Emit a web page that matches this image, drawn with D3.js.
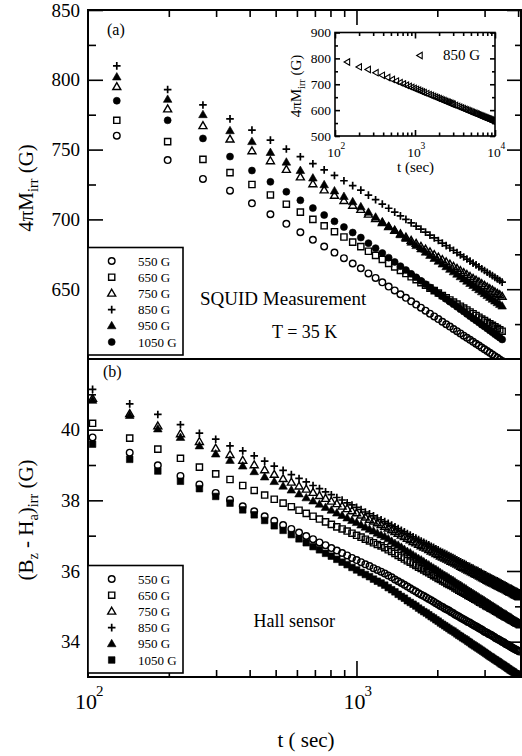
<!DOCTYPE html>
<html>
<head>
<meta charset="utf-8">
<script src="https://cdn.jsdelivr.net/npm/d3@7/dist/d3.min.js"></script>
<style>
  body { margin: 0; background: #fff; }
</style>
</head>
<body>
<script>
'use strict';

// ---- data ----
const fieldLabels = ["550 G", "650 G", "750 G", "850 G", "950 G", "1050 G"];

// panel (a): SQUID, t in sec, 4piM_irr in G
const tTop = [128,198,268,338,408,478,548,618,688,758,828,898,968,1038,1108,1178,1248,1318,1388,1458,1528,1598,1668,1738,1808,1878,1948,2018,2088,2158,2228,2298,2368,2438,2508,2578,2648,2718,2788,2858,2928,2998,3068,3138,3208,3278,3348,3418,3488];
const top550 = [760,742.5,729,720.6,711.5,703.7,696.8,690.8,685.4,680.6,676.2,672.2,668.4,665,661.3,658.1,654.9,651.9,649.1,646.4,643.8,641.3,639,636.8,634.6,632.5,630.5,628.6,626.7,624.9,623.2,621.5,619.9,618.3,616.7,615.2,613.7,612.3,610.9,609.6,608.2,606.9,605.7,604.4,603.3,602,600.9,599.7,598.6];
const top650 = [771,755.7,743,733.5,725,717.5,710.9,705.2,700,695.4,691.2,687.4,683.7,680.5,677.2,674.2,671.3,668.5,666,663.5,661.2,658.9,656.8,654.7,652.8,650.8,649,647.3,645.5,643.9,642.3,640.8,639.3,637.8,636.5,635.1,633.7,632.4,631.2,629.9,628.6,627.5,626.3,625.2,624.1,623,622,620.9,619.9];
const top750 = [795,779,767,757.4,749,741.9,735.7,730.3,725.4,721,717.1,713.4,710,707,703.6,700.5,697.6,694.7,692.1,689.5,687.2,684.8,682.7,680.6,678.6,676.6,674.7,672.9,671.1,669.5,667.8,666.3,664.8,663.2,661.8,660.4,659,657.7,656.4,655.1,653.8,652.6,651.4,650.2,649.2,648,646.9,645.9,644.8];
const top850 = [810,793,782,772,764,756.8,750.4,744.9,739.9,735.5,731.5,727.7,724.2,721,717.4,714.1,711,708,705.2,702.5,700,697.5,695.2,693,690.9,688.7,686.7,684.9,683,681.2,679.5,677.9,676.2,674.6,673.1,671.6,670.1,668.7,667.4,666,664.6,663.4,662.1,660.9,659.7,658.5,657.4,656.2,655.1];
const top950 = [802,786,775,763.5,755.7,747.9,741,735,729.6,724.8,720.4,716.4,712.6,709,705.1,701.6,698.2,695,692,689,686.3,683.6,681.2,678.8,676.5,674.2,672,670,668,666.1,664.2,662.4,660.7,658.9,657.3,655.7,654.1,652.6,651.1,649.6,648.1,646.8,645.4,644.1,642.8,641.5,640.3,639.1,637.9];
const top1050 = [785,771,758,745,735,726.9,719.8,713.7,708.1,703.1,698.6,694.5,690.6,687,683,679.4,675.9,672.6,669.5,666.5,663.7,661,658.5,656,653.6,651.3,649.1,647,644.9,643,641,639.2,637.4,635.6,634,632.3,630.6,629.1,627.6,626.1,624.5,623.2,621.8,620.4,619.1,617.7,616.5,615.3,614];

// panel (b): Hall sensor, (Bz - Ha)_irr in G
const tBot = [104,143,182,221,260,299,338,377,416,455,494,533,572,611,650,689,728,767,806,845,884,923,962,1001,1040,1079,1118,1157,1196,1235,1274,1313,1352,1391,1430,1469,1508,1547,1586,1625,1664,1703,1742,1781,1820,1859,1898,1937,1976,2015,2054,2093,2132,2171,2210,2249,2288,2327,2366,2405,2444,2483,2522,2561,2600,2639,2678,2717,2756,2795,2834,2873,2912,2951,2990,3029,3068,3107,3146,3185,3224,3263,3302,3341,3380,3419,3458,3497,3536,3575,3614,3653,3692,3731,3770,3809,3848,3887,3926,3965,4004,4043];
const bot550 = [39.78,39.35,38.99,38.69,38.45,38.21,38.02,37.83,37.69,37.55,37.42,37.30,37.19,37.09,36.99,36.90,36.81,36.73,36.65,36.58,36.51,36.44,36.37,36.31,36.25,36.19,36.14,36.08,36.03,35.98,35.93,35.87,35.82,35.76,35.71,35.66,35.61,35.56,35.51,35.46,35.42,35.37,35.33,35.29,35.25,35.21,35.17,35.13,35.09,35.05,35.01,34.98,34.94,34.91,34.88,34.84,34.81,34.77,34.74,34.71,34.68,34.65,34.62,34.59,34.56,34.54,34.51,34.48,34.45,34.43,34.40,34.37,34.35,34.32,34.29,34.27,34.25,34.22,34.20,34.18,34.15,34.13,34.10,34.08,34.06,34.04,34.02,33.99,33.98,33.95,33.93,33.91,33.89,33.87,33.85,33.83,33.81,33.79,33.77,33.76,33.74,33.72];
const bot650 = [40.18,39.76,39.45,39.19,38.94,38.75,38.59,38.42,38.28,38.15,38.03,37.92,37.82,37.72,37.63,37.55,37.47,37.39,37.32,37.25,37.19,37.13,37.07,37.01,36.96,36.90,36.85,36.80,36.75,36.71,36.66,36.60,36.55,36.50,36.44,36.39,36.34,36.29,36.25,36.20,36.16,36.11,36.07,36.03,35.99,35.95,35.91,35.87,35.83,35.79,35.76,35.72,35.69,35.65,35.62,35.59,35.56,35.52,35.49,35.46,35.43,35.40,35.37,35.34,35.31,35.29,35.26,35.23,35.20,35.18,35.15,35.12,35.10,35.07,35.05,35.02,35.00,34.98,34.95,34.93,34.91,34.88,34.86,34.84,34.82,34.79,34.77,34.75,34.73,34.71,34.69,34.67,34.65,34.63,34.61,34.59,34.57,34.55,34.53,34.52,34.50,34.48];
const bot750 = [40.88,40.45,40.10,39.88,39.66,39.47,39.29,39.13,39.00,38.86,38.73,38.61,38.51,38.40,38.31,38.22,38.13,38.05,37.97,37.90,37.83,37.76,37.70,37.64,37.58,37.52,37.46,37.41,37.36,37.31,37.26,37.21,37.16,37.11,37.06,37.01,36.97,36.92,36.88,36.83,36.79,36.75,36.71,36.67,36.64,36.60,36.56,36.53,36.49,36.46,36.42,36.39,36.36,36.33,36.30,36.27,36.25,36.22,36.19,36.16,36.13,36.10,36.08,36.05,36.02,36.00,35.97,35.95,35.92,35.90,35.88,35.85,35.83,35.80,35.78,35.76,35.73,35.71,35.69,35.67,35.65,35.63,35.61,35.59,35.57,35.55,35.53,35.51,35.50,35.48,35.46,35.44,35.42,35.40,35.39,35.37,35.35,35.33,35.31,35.30,35.28,35.26];
const bot850 = [41.14,40.73,40.43,40.14,39.90,39.73,39.54,39.40,39.26,39.11,38.97,38.85,38.73,38.62,38.52,38.42,38.33,38.24,38.16,38.08,38.01,37.93,37.87,37.80,37.74,37.67,37.62,37.56,37.50,37.45,37.40,37.35,37.30,37.25,37.20,37.15,37.11,37.06,37.02,36.97,36.93,36.89,36.85,36.81,36.78,36.74,36.70,36.67,36.63,36.60,36.56,36.53,36.50,36.47,36.44,36.41,36.38,36.35,36.32,36.29,36.26,36.23,36.21,36.18,36.15,36.13,36.10,36.08,36.05,36.03,36.01,35.98,35.96,35.93,35.91,35.89,35.86,35.84,35.82,35.80,35.78,35.76,35.74,35.72,35.70,35.68,35.66,35.64,35.62,35.60,35.58,35.56,35.54,35.52,35.51,35.49,35.47,35.45,35.43,35.42,35.40,35.38];
const bot950 = [40.83,40.40,40.02,39.78,39.54,39.31,39.13,38.97,38.81,38.66,38.53,38.40,38.29,38.18,38.07,37.98,37.89,37.80,37.72,37.64,37.57,37.50,37.43,37.37,37.30,37.24,37.18,37.13,37.07,37.02,36.97,36.91,36.84,36.78,36.73,36.67,36.61,36.55,36.51,36.45,36.40,36.35,36.31,36.26,36.21,36.17,36.12,36.08,36.04,36.00,35.95,35.91,35.87,35.84,35.80,35.76,35.73,35.69,35.65,35.62,35.59,35.55,35.52,35.49,35.45,35.42,35.39,35.36,35.33,35.30,35.27,35.24,35.21,35.19,35.16,35.13,35.10,35.08,35.05,35.02,35.00,34.97,34.95,34.92,34.90,34.87,34.85,34.82,34.80,34.78,34.76,34.73,34.71,34.69,34.67,34.64,34.62,34.60,34.58,34.56,34.54,34.52];
const bot1050 = [39.59,39.16,38.83,38.54,38.33,38.11,37.92,37.73,37.59,37.43,37.28,37.15,37.03,36.91,36.80,36.69,36.60,36.50,36.42,36.33,36.25,36.18,36.10,36.03,35.96,35.90,35.84,35.77,35.71,35.66,35.60,35.53,35.47,35.41,35.34,35.28,35.23,35.16,35.11,35.06,35.01,34.95,34.90,34.85,34.81,34.76,34.71,34.67,34.62,34.58,34.53,34.49,34.45,34.41,34.37,34.33,34.30,34.26,34.22,34.18,34.15,34.11,34.08,34.05,34.01,33.98,33.94,33.91,33.88,33.85,33.82,33.79,33.76,33.73,33.70,33.67,33.64,33.61,33.58,33.56,33.53,33.50,33.48,33.45,33.43,33.40,33.37,33.35,33.33,33.30,33.28,33.25,33.23,33.20,33.18,33.16,33.14,33.11,33.09,33.07,33.05,33.03];

// inset: 850 G over a longer time
const tInset = [143,201,260,325,390,455,520,585,650,715,780,845,910,975,1040,1105,1170,1235,1300,1400,1500,1600,1700,1800,1900,2000,2100,2200,2300,2400,2500,2600,2700,2800,2900,3000,3200,3400,3600,3800,4000,4200,4400,4600,4800,5000,5200,5400,5600,5800,6000,6200,6400,6600,6800,7000,7200,7400,7600,7800,8000,8200,8400,8600,8800,9000,9200,9400,9600,9800,10000];
const vInset = [786,767,757,744.6,734.6,726,718.7,712.2,706.3,701.1,696.2,691.8,687.7,683.9,680.3,677,673.8,670.8,667.9,663.9,660,656.5,653.2,650,646.9,644.1,641.4,638.9,636.4,634.1,631.8,629.6,627.6,625.5,623.6,621.7,618.1,614.8,611.6,608.6,605.8,603.1,600.6,598,595.7,593.4,591.3,589.2,587.2,585.3,583.4,581.6,579.8,578,576.3,574.8,573.3,571.8,570.2,568.8,567.4,566,564.8,563.5,562.2,560.9,559.7,558.5,557.4,556.2,555];

// tick values
const topMajor = [650, 700, 750, 800, 850];
const topMinor = [625, 675, 725, 775, 825];
const botMajor = [34, 36, 38, 40];
const botMinor = [35, 37, 39, 41];
const xMajor = [1000];
const xMinor = [200, 300, 400, 500, 600, 700, 800, 900, 2000, 3000, 4000];
const xLabels = [100, 1000];
const insetYMajor = [500, 600, 700, 800, 900];
const insetYMinor = [550, 650, 750, 850];
const insetXMajor = [100, 1000, 10000];
const insetXMinor = [200, 300, 400, 500, 600, 700, 800, 900, 2000, 3000, 4000, 5000, 6000, 7000, 8000, 9000];

// ---- layout ----
const serif = "'Liberation Serif', 'Times New Roman', Times, serif";
const left = 88, right = 521, topY = 10, midY = 359, botY = 677;

const svg = d3.select("body").append("svg")
    .attr("width", 522)
    .attr("height", 756)
    .style("font-family", serif);

const x = d3.scaleLog().domain([100, 4100]).range([left, right]);
const yTop = d3.scaleLinear().domain([600, 850]).range([midY, topY]);
const yBot = d3.scaleLinear().domain([33, 42]).range([botY, midY]);

const xIn = d3.scaleLog().domain([100, 10000]).range([335, 495]);
const yIn = d3.scaleLinear().domain([500, 900]).range([136, 32.5]);

const defs = svg.append("defs");
function clip(id, x0, y0, w, h) {
    defs.append("clipPath").attr("id", id)
        .append("rect").attr("x", x0).attr("y", y0).attr("width", w).attr("height", h);
}
clip("clipTop", left, topY, right - left, midY - topY);
clip("clipBot", left, midY, right - left, botY - midY);
clip("clipIn", 335, 32.5, 160, 103.5);

function symbolPath(shape, s) {
    let h = s / 2;
    if (shape == "circle") {
        return `M${h},0A${h},${h} 0 1,1 ${-h},0A${h},${h} 0 1,1 ${h},0Z`;
    }
    if (shape == "square") {
        return `M${-h},${-h}h${s}v${s}h${-s}Z`;
    }
    if (shape == "triangle") {
        let th = s * 0.866;
        return `M0,${-th * 0.6}L${h},${th * 0.4}L${-h},${th * 0.4}Z`;
    }
    if (shape == "left") {
        let th = s * 0.866;
        return `M${-th * 0.6},0L${th * 0.4},${-h}L${th * 0.4},${h}Z`;
    }
    // plus
    return `M${-h},0H${h}M0,${-h}V${h}`;
}

// style per field: 550, 650, 750, 850, 950, 1050
const topStyles = [
    { shape: "circle", filled: false, size: 6.6 },
    { shape: "square", filled: false, size: 6.2 },
    { shape: "triangle", filled: false, size: 8 },
    { shape: "plus", filled: false, size: 7.6 },
    { shape: "triangle", filled: true, size: 8.6 },
    { shape: "circle", filled: true, size: 7 }
];
const botStyles = topStyles.map((s, i) => i == 5 ? { shape: "square", filled: true, size: 6.6 } : s);
const drawOrder = [5, 4, 1, 0, 2, 3];

function drawMarks(g, xs, ys, xs_, ys_, st) {
    g.selectAll(null)
        .data(d3.zip(xs, ys))
        .enter().append("path")
        .attr("transform", d => `translate(${xs_(d[0])},${ys_(d[1])})`)
        .attr("d", symbolPath(st.shape, st.size))
        .attr("fill", st.filled ? "#000" : "none")
        .attr("stroke", "#000")
        .attr("stroke-width", st.filled ? 0.6 : (st.shape == "plus" ? 1.7 : 1.4));
}

const topSeries = [top550, top650, top750, top850, top950, top1050];
const botSeries = [bot550, bot650, bot750, bot850, bot950, bot1050];

let gTop = svg.append("g").attr("clip-path", "url(#clipTop)");
drawOrder.forEach(i => drawMarks(gTop, tTop, topSeries[i], x, yTop, topStyles[i]));

let gBot = svg.append("g").attr("clip-path", "url(#clipBot)");
drawOrder.forEach(i => drawMarks(gBot, tBot, botSeries[i], x, yBot, botStyles[i]));

// ---- ticks ----
function ticks(axisFn, scale, vals, len, tx, ty) {
    return svg.append("g")
        .attr("transform", `translate(${tx},${ty})`)
        .call(axisFn(scale).tickValues(vals).tickSize(-len).tickFormat(""))
        .call(g => g.select(".domain").remove())
        .call(g => g.selectAll("line").attr("stroke-width", 1.6));
}

// left axes with labels
function labelledLeft(scale, vals) {
    svg.append("g")
        .attr("transform", `translate(${left},0)`)
        .call(d3.axisLeft(scale).tickValues(vals).tickSize(-15).tickPadding(8).tickFormat(d3.format("d")))
        .call(g => g.select(".domain").remove())
        .call(g => g.selectAll("line").attr("stroke-width", 1.6))
        .call(g => g.selectAll("text")
            .attr("font-family", serif)
            .attr("font-size", 19)
            .attr("fill", "#000"));
}
labelledLeft(yTop, topMajor);
labelledLeft(yBot, botMajor);
ticks(d3.axisLeft, yTop, topMinor, 8, left, 0);
ticks(d3.axisLeft, yBot, botMinor, 8, left, 0);
ticks(d3.axisRight, yTop, topMajor, 14, right, 0);
ticks(d3.axisRight, yTop, topMinor, 6, right, 0);
ticks(d3.axisRight, yBot, botMajor, 14, right, 0);
ticks(d3.axisRight, yBot, botMinor, 6, right, 0);
ticks(d3.axisTop, x, xMajor, 15, 0, topY);
ticks(d3.axisTop, x, xMinor, 7, 0, topY);
ticks(d3.axisBottom, x, xMajor, 16, 0, botY);
ticks(d3.axisBottom, x, xMinor, 7, 0, botY);

// frames
svg.append("rect")
    .attr("x", left).attr("y", topY)
    .attr("width", right - left).attr("height", botY - topY)
    .attr("fill", "none").attr("stroke", "#000").attr("stroke-width", 2);
svg.append("line")
    .attr("x1", left).attr("x2", right).attr("y1", midY).attr("y2", midY)
    .attr("stroke", "#000").attr("stroke-width", 2);

// x tick labels: 10^n
xLabels.forEach(v => {
    let cx = x(v) - 2;
    svg.append("text")
        .attr("x", cx).attr("y", 709)
        .attr("text-anchor", "middle")
        .attr("font-size", 22)
        .text("10");
    svg.append("text")
        .attr("x", cx + 10).attr("y", 696)
        .attr("font-size", 15)
        .text(String(Math.round(Math.log10(v))));
});

// axis titles
svg.append("text")
    .attr("x", 306).attr("y", 747)
    .attr("text-anchor", "middle")
    .attr("font-size", 21)
    .text("t ( sec)");

function rotatedTitle(cx, cy, size, parts) {
    let t = svg.append("text")
        .attr("transform", `translate(${cx},${cy}) rotate(-90)`)
        .attr("text-anchor", "middle")
        .attr("font-size", size);
    parts.forEach(p => {
        t.append("tspan")
            .attr("dy", p.dy || 0)
            .attr("font-size", p.sub ? size * 0.68 : size)
            .text(p.txt);
    });
    return t;
}
let sh = 5;
rotatedTitle(33, 188, 21, [
    { txt: "4πM" }, { txt: "irr", sub: true, dy: sh }, { txt: " (G)", dy: -sh }
]);
rotatedTitle(33, 520, 21, [
    { txt: "(B" }, { txt: "z", sub: true, dy: sh }, { txt: " - H", dy: -sh },
    { txt: "a", sub: true, dy: sh }, { txt: ")", dy: -sh },
    { txt: "irr", sub: true, dy: sh }, { txt: " (G)", dy: -sh }
]);

// panel tags and notes
svg.append("text").attr("x", 107).attr("y", 35).attr("font-size", 16).text("(a)");
svg.append("text").attr("x", 103).attr("y", 377).attr("font-size", 16).text("(b)");
svg.append("text").attr("x", 200).attr("y", 305).attr("font-size", 19).text("SQUID Measurement");
svg.append("text").attr("x", 272).attr("y", 338).attr("font-size", 18).text("T = 35 K");
svg.append("text").attr("x", 335).attr("y", 627).attr("text-anchor", "end").attr("font-size", 18).text("Hall sensor");

// legends
function legend(y0, styles) {
    svg.append("rect")
        .attr("x", left).attr("y", y0)
        .attr("width", 95).attr("height", 107.5)
        .attr("fill", "#fff").attr("stroke", "#000").attr("stroke-width", 1.6);
    fieldLabels.forEach((lab, i) => {
        let cy = y0 + 13.5 + i * 16.2;
        let st = styles[i];
        svg.append("path")
            .attr("transform", `translate(111.7,${cy})`)
            .attr("d", symbolPath(st.shape, st.size))
            .attr("fill", st.filled ? "#000" : "none")
            .attr("stroke", "#000")
            .attr("stroke-width", st.filled ? 0.6 : (st.shape == "plus" ? 1.7 : 1.4));
        svg.append("text")
            .attr("x", 138).attr("y", cy + 4.5)
            .attr("font-size", 13)
            .text(lab);
    });
}
legend(247.5, topStyles);
legend(565.5, botStyles);

// ---- inset ----
svg.append("rect")
    .attr("x", 335).attr("y", 32.5).attr("width", 160).attr("height", 103.5)
    .attr("fill", "#fff");

let gIn = svg.append("g").attr("clip-path", "url(#clipIn)");
gIn.selectAll(null)
    .data(d3.zip(tInset, vInset))
    .enter().append("path")
    .attr("transform", d => `translate(${xIn(d[0])},${yIn(d[1])})`)
    .attr("d", symbolPath("left", 6.4))
    .attr("fill", "none")
    .attr("stroke", "#000")
    .attr("stroke-width", 1.1);

ticks(d3.axisLeft, yIn, insetYMajor, 5, 335, 0);
ticks(d3.axisLeft, yIn, insetYMinor, 3, 335, 0);
ticks(d3.axisRight, yIn, insetYMajor, 5, 495, 0);
ticks(d3.axisRight, yIn, insetYMinor, 3, 495, 0);
ticks(d3.axisBottom, xIn, insetXMajor, 6, 0, 136);
ticks(d3.axisBottom, xIn, insetXMinor, 3.5, 0, 136);
ticks(d3.axisTop, xIn, insetXMajor, 6, 0, 32.5);
ticks(d3.axisTop, xIn, insetXMinor, 3.5, 0, 32.5);

svg.append("rect")
    .attr("x", 335).attr("y", 32.5).attr("width", 160).attr("height", 103.5)
    .attr("fill", "none").attr("stroke", "#000").attr("stroke-width", 1.6);

insetYMajor.forEach(v => {
    svg.append("text")
        .attr("x", 331).attr("y", yIn(v) + 4.5)
        .attr("text-anchor", "end")
        .attr("font-size", 13.5)
        .text(v);
});
insetXMajor.forEach(v => {
    let cx = xIn(v) - 1;
    svg.append("text")
        .attr("x", cx).attr("y", 156.5)
        .attr("text-anchor", "middle")
        .attr("font-size", 13.5)
        .text("10");
    svg.append("text")
        .attr("x", cx + 6.5).attr("y", 149)
        .attr("font-size", 9.5)
        .text(String(Math.round(Math.log10(v))));
});
svg.append("text")
    .attr("x", 415.5).attr("y", 171.5)
    .attr("text-anchor", "middle")
    .attr("font-size", 15)
    .text("t (sec)");
rotatedTitle(301, 86, 15, [
    { txt: "4πM" }, { txt: "irr", sub: true, dy: 3.5 }, { txt: " (G)", dy: -3.5 }
]);
svg.append("path")
    .attr("transform", "translate(420,55.5)")
    .attr("d", symbolPath("left", 6.4))
    .attr("fill", "none").attr("stroke", "#000").attr("stroke-width", 1.1);
svg.append("text")
    .attr("x", 443).attr("y", 60)
    .attr("font-size", 15)
    .text("850 G");
</script>
</body>
</html>
